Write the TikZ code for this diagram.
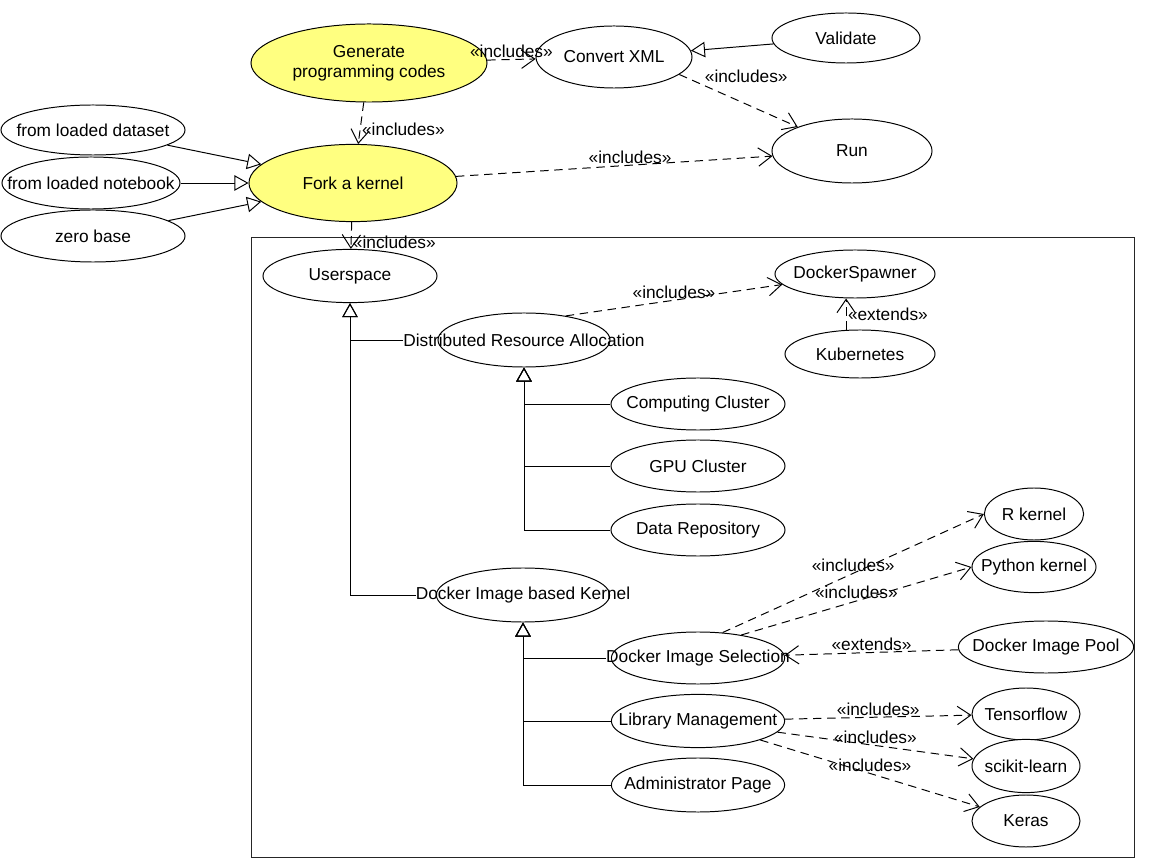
\documentclass[tikz,border=0pt]{standalone}
\usepackage{fontspec}
\setmainfont{Liberation Sans}
\usepackage{xcolor}
\usetikzlibrary{shapes.geometric,arrows.meta}

\definecolor{forkyellow}{RGB}{255,255,128}

\begin{document}
\begin{tikzpicture}[x=0.025cm, y=-0.025cm,
    font=\fontsize{12.3}{14.5}\selectfont,
    usecase/.style={ellipse, draw, line width=0.7pt, inner sep=0pt, fill=white},
    include/.style={line width=0.7pt, dash pattern=on 6pt off 4pt, -{Straight Barb[length=9.5pt,width=13pt]}},
    generalize/.style={line width=0.7pt, -{Triangle[open,length=10pt,width=11pt]}},
    stereo/.style={inner sep=1pt}]
  \useasboundingbox (0,0) rectangle (1152,859);

  % System frame
  \draw[line width=0.7pt, black!85] (251,237) rectangle (1134,857);

  % Code generation
  \node[usecase, fill=forkyellow, minimum width=5.9cm, minimum height=1.95cm,
    label={[align=center]center:Generate\\programming codes}] (generate) at (369,63) {};
  \node[usecase, minimum width=3.9cm, minimum height=1.55cm, label=center:Convert XML] (convert) at (614,57) {};
  \node[usecase, minimum width=3.7cm, minimum height=1.25cm, label=center:Validate] (validate) at (846,38) {};
  \node[usecase, minimum width=4.0cm, minimum height=1.6cm, label=center:Run] (run) at (852,151) {};

  % Kernel forking
  \node[usecase, fill=forkyellow, minimum width=5.2cm, minimum height=1.93cm, label=center:Fork a kernel] (fork) at (353,183) {};
  \node[usecase, minimum width=4.6cm, minimum height=1.25cm, label=center:from loaded dataset] (dataset) at (93,130) {};
  \node[usecase, minimum width=4.45cm, minimum height=1.3cm, label=center:from loaded notebook] (notebook) at (91,183) {};
  \node[usecase, minimum width=4.6cm, minimum height=1.3cm, label=center:zero base] (zerobase) at (93,236) {};

  % Userspace
  \node[usecase, minimum width=4.35cm, minimum height=1.33cm, label=center:Userspace] (userspace) at (350,276) {};
  \node[usecase, minimum width=4.3cm, minimum height=1.35cm,
    label={[name=dratext, inner sep=0pt]center:Distributed Resource Allocation}] (dra) at (524,340) {};
  \node[usecase, minimum width=4.0cm, minimum height=1.2cm, label=center:DockerSpawner] (spawner) at (855,274) {};
  \node[usecase, minimum width=3.75cm, minimum height=1.2cm, label=center:Kubernetes] (kubernetes) at (860,354) {};
  \node[usecase, minimum width=4.35cm, minimum height=1.3cm, label=center:Computing Cluster] (computing) at (698,404) {};
  \node[usecase, minimum width=4.35cm, minimum height=1.3cm, label=center:GPU Cluster] (gpu) at (698,466) {};
  \node[usecase, minimum width=4.35cm, minimum height=1.3cm, label=center:Data Repository] (repository) at (698,530) {};

  % Docker image based kernel
  \node[usecase, minimum width=4.33cm, minimum height=1.35cm,
    label={[name=dibktext, inner sep=0pt]center:Docker Image based Kernel}] (dibk) at (523,595) {};
  \node[usecase, minimum width=4.33cm, minimum height=1.3cm,
    label={[name=distext, inner sep=0pt]center:Docker Image Selection}] (selection) at (698,658) {};
  \node[usecase, minimum width=4.33cm, minimum height=1.33cm, label=center:Library Management] (library) at (698,721) {};
  \node[usecase, minimum width=4.33cm, minimum height=1.35cm, label=center:Administrator Page] (admin) at (698,785) {};
  \node[usecase, minimum width=2.48cm, minimum height=1.3cm, label=center:R kernel] (rkernel) at (1034,514) {};
  \node[usecase, minimum width=3.1cm, minimum height=1.28cm, label=center:Python kernel] (pykernel) at (1034,567) {};
  \node[usecase, minimum width=4.38cm, minimum height=1.3cm, label=center:Docker Image Pool] (pool) at (1046,647) {};
  \node[usecase, minimum width=2.7cm, minimum height=1.3cm, label=center:Tensorflow] (tensorflow) at (1026,714) {};
  \node[usecase, minimum width=2.7cm, minimum height=1.33cm, label=center:scikit-learn] (sklearn) at (1026,766) {};
  \node[usecase, minimum width=2.7cm, minimum height=1.3cm, label=center:Keras] (keras) at (1026,821) {};

  % Includes / extends
  \draw[include] (generate) -- node[stereo, above] {«includes»} (convert);
  \draw[include] (generate) -- node[stereo, pos=0.65, right] {«includes»} (fork);
  \draw[include] (convert.-15) -- node[stereo, pos=0.2, anchor=south west] {«includes»} (run);
  \draw[include] (fork) -- node[stereo, pos=0.55, above] {«includes»} (run);
  \draw[include] (fork) -- node[stereo, pos=0.75, right] {«includes»} (userspace);
  \draw[include] (dra.30) -- node[stereo, pos=0.5, above] {«includes»} (spawner);
  \draw[include] (kubernetes.120) -- node[stereo, right] {«extends»} (kubernetes.120 |- spawner.south);
  \draw[include] (selection.46) -- node[stereo, pos=0.5, above] {«includes»} (rkernel.west);
  \draw[include] (selection.28) -- node[stereo, pos=0.5, above] {«includes»} (pykernel.west);
  \draw[include] (pool) -- node[stereo, pos=0.5, above] {«extends»} (selection);
  \draw[include] (library) -- node[stereo, above] {«includes»} (tensorflow);
  \draw[include] (library.-8) -- node[stereo, pos=0.5, above] {«includes»} (sklearn);
  \draw[include] (library) -- node[stereo, pos=0.5, above] {«includes»} (keras);

  % Generalizations
  \draw[generalize] (validate) -- (convert);
  \draw[generalize] (dataset) -- (fork);
  \draw[generalize] (notebook) -- (fork);
  \draw[generalize] (zerobase) -- (fork);
  \draw[generalize] (dratext.west) -| (userspace.south);
  \draw[generalize] (dibktext.west) -| (userspace.south);
  \draw[generalize] (computing.west) -| (dra.south);
  \draw[generalize] (gpu.west) -| (dra.south);
  \draw[generalize] (repository.west) -| (dra.south);
  \draw[generalize] (distext.west) -| (dibk.south);
  \draw[generalize] (library.west) -| (dibk.south);
  \draw[generalize] (admin.west) -| (dibk.south);

\end{tikzpicture}
\end{document}
